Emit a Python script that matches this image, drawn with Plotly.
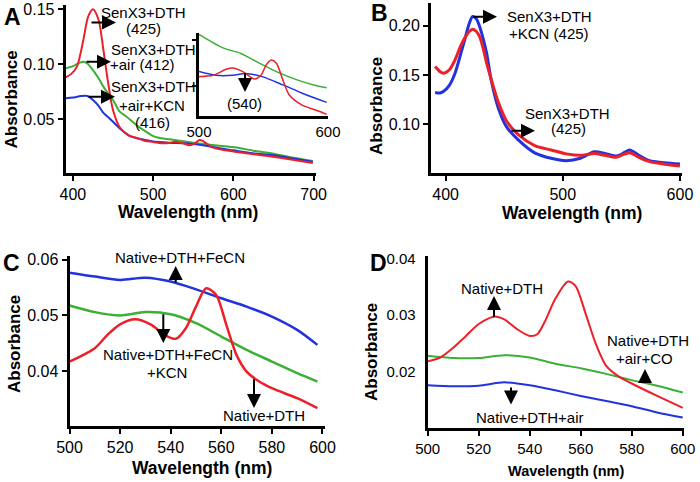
import plotly.graph_objects as go

# ---------------- DATA ----------------
# Panel A (main)
A_red_wl = [391, 398, 405, 413, 419, 425, 432, 438, 444, 450, 459, 470, 480, 490, 500, 510, 520, 527, 535, 546, 553, 558, 563, 573, 585, 604, 625, 645, 670, 699]
A_red = [0.0879, 0.091, 0.0976, 0.1218, 0.143, 0.1497, 0.140, 0.1127, 0.0825, 0.058, 0.0418, 0.035, 0.0327, 0.030, 0.0292, 0.028, 0.0282, 0.0294, 0.0285, 0.0262, 0.0285, 0.031, 0.0295, 0.0245, 0.0222, 0.020, 0.018, 0.0161, 0.0135, 0.0101]
A_blue_wl = [391, 400, 410, 418, 425, 432, 438, 445, 450, 460, 470, 480, 490, 500, 520, 540, 560, 583, 600, 624, 650, 675, 699]
A_blue = [0.0688, 0.0695, 0.0708, 0.0709, 0.0673, 0.062, 0.0555, 0.051, 0.0475, 0.0405, 0.035, 0.0325, 0.031, 0.0296, 0.0285, 0.0279, 0.0264, 0.0234, 0.0215, 0.0188, 0.017, 0.014, 0.0112]
A_green_wl = [391, 400, 408, 413, 418, 425, 432, 438, 445, 450, 458, 467, 480, 492, 500, 510, 521, 540, 555, 580, 604, 625, 645, 670, 699]
A_green = [0.0961, 0.098, 0.101, 0.1021, 0.1005, 0.0945, 0.087, 0.0794, 0.072, 0.0673, 0.057, 0.052, 0.044, 0.038, 0.0345, 0.0325, 0.0315, 0.0295, 0.028, 0.026, 0.024, 0.0212, 0.019, 0.0155, 0.0118]

# Panel A inset (500-600 nm)
I_wl_g = [500, 519, 532, 545, 560, 576, 589, 599]
I_green = [0.0362, 0.0332, 0.0321, 0.0302, 0.0281, 0.0263, 0.0252, 0.0246]
I_wl_b = [500, 513, 526, 536, 549, 565, 580, 599]
I_blue = [0.0281, 0.0273, 0.0273, 0.0277, 0.0270, 0.0252, 0.0234, 0.0214]
I_wl_r = [500, 511, 521, 526, 534, 543, 548, 552, 556, 560, 565, 570, 580, 591, 599]
I_red = [0.0270, 0.0273, 0.0286, 0.0289, 0.0281, 0.0265, 0.0273, 0.0295, 0.0306, 0.0299, 0.0263, 0.0230, 0.0208, 0.0197, 0.0188]

# Panel B
B_wl = [391, 395, 398, 403, 408, 413, 417, 420, 423, 426, 429, 432, 435, 439, 445, 452, 462, 476, 490, 503, 515, 527, 536, 545, 550, 557, 565, 574, 587, 600]
B_red = [0.1585, 0.1535, 0.1517, 0.155, 0.1653, 0.180, 0.189, 0.194, 0.1966, 0.1945, 0.189, 0.177, 0.162, 0.145, 0.122, 0.103, 0.089, 0.078, 0.0735, 0.0695, 0.068, 0.070, 0.068, 0.066, 0.068, 0.0707, 0.066, 0.0616, 0.059, 0.057]
B_blue = [0.132, 0.1315, 0.133, 0.139, 0.1517, 0.172, 0.189, 0.202, 0.2095, 0.2075, 0.1993, 0.187, 0.172, 0.144, 0.116, 0.097, 0.0837, 0.0705, 0.065, 0.0626, 0.065, 0.0717, 0.070, 0.0673, 0.069, 0.0735, 0.068, 0.0626, 0.0605, 0.0592]

# Panel C
C_wl = [500, 510, 520, 530, 540, 550, 560, 570, 580, 590, 598]
C_blue = [0.0577, 0.0570, 0.0564, 0.0568, 0.0561, 0.0547, 0.0531, 0.0516, 0.0498, 0.0474, 0.0447]
C_green = [0.0518, 0.0506, 0.0500, 0.0506, 0.0502, 0.0486, 0.0462, 0.0438, 0.0417, 0.0396, 0.0381]
C_red_wl = [500, 510, 515, 520, 526, 532, 538, 542, 546, 550, 554, 558, 562, 566, 570, 575, 580, 590, 598]
C_red = [0.0417, 0.0441, 0.0465, 0.0484, 0.0493, 0.0484, 0.0464, 0.0458, 0.0477, 0.0516, 0.0549, 0.0537, 0.0483, 0.0429, 0.0399, 0.0381, 0.0369, 0.0351, 0.0333]

# Panel D
D_wl = [500, 510, 520, 530, 540, 550, 560, 570, 580, 590, 600]
D_green = [0.0228, 0.0224, 0.0224, 0.0229, 0.0225, 0.0214, 0.0206, 0.0196, 0.0185, 0.0175, 0.0163]
D_blue = [0.0176, 0.0174, 0.0175, 0.0181, 0.0176, 0.0167, 0.0157, 0.0148, 0.0139, 0.0128, 0.0119]
D_red_wl = [500, 505, 510, 515, 520, 526, 530, 535, 540, 543, 546, 550, 555, 558, 562, 566, 570, 575, 580, 590, 600]
D_red = [0.0218, 0.0225, 0.0242, 0.0263, 0.0284, 0.0297, 0.0292, 0.0275, 0.0263, 0.0266, 0.0289, 0.0328, 0.0359, 0.0351, 0.0301, 0.0248, 0.0210, 0.0191, 0.0179, 0.0157, 0.0136]

RED = "#ec2028"
GREEN = "#3cb034"
BLUE = "#2233dd"
FONT = "Liberation Sans, Arial, sans-serif"

W, H = 700, 482
def fx(x):
    return x / W
def fy(y):
    return 1 - y / H

fig = go.Figure()

def line(x, y, color, xa, ya, width):
    fig.add_trace(go.Scatter(x=x, y=y, mode="lines", line=dict(color=color, width=width, shape="spline", smoothing=0.8),
                             xaxis=xa, yaxis=ya, showlegend=False, hoverinfo="skip"))

# A
line(A_green_wl, A_green, GREEN, "x", "y", 2)
line(A_blue_wl, A_blue, BLUE, "x", "y", 2)
line(A_red_wl, A_red, RED, "x", "y", 2)
# B
line(B_wl, B_blue, BLUE, "x2", "y2", 3)
line(B_wl, B_red, RED, "x2", "y2", 3)
# C
line(C_wl, C_blue, BLUE, "x3", "y3", 2.5)
line(C_wl, C_green, GREEN, "x3", "y3", 2.5)
line(C_red_wl, C_red, RED, "x3", "y3", 2.5)
# D
line(D_wl, D_green, GREEN, "x4", "y4", 2)
line(D_wl, D_blue, BLUE, "x4", "y4", 2)
line(D_red_wl, D_red, RED, "x4", "y4", 2)
# Inset
line(I_wl_g, I_green, GREEN, "x5", "y5", 1.5)
line(I_wl_b, I_blue, BLUE, "x5", "y5", 1.5)
line(I_wl_r, I_red, RED, "x5", "y5", 1.5)

def ax(domain, rng, tickvals, anchor, lw=3, ticksize=16, showlabels=True, ticklen=5, fmt=None, ticks="outside", standoff=None):
    d = dict(domain=domain, range=rng, tickvals=tickvals, anchor=anchor, showline=True, linecolor="black",
             linewidth=lw, ticks=ticks, ticklen=ticklen, tickwidth=2, tickcolor="black", showgrid=False,
             zeroline=False, showticklabels=showlabels, automargin=False,
             tickfont=dict(family=FONT, size=ticksize, color="black"))
    if fmt:
        d["tickformat"] = fmt
    if standoff is not None:
        d["ticklabelstandoff"] = standoff
    return d

layout = dict(
    width=W, height=H, margin=dict(l=0, r=0, t=0, b=0, autoexpand=False),
    paper_bgcolor="white", plot_bgcolor="rgba(0,0,0,0)", showlegend=False,
    xaxis=ax([fx(65.7), fx(316)], [391, 703], [400, 500, 600, 700], "y"),
    yaxis=ax([fy(172.7), fy(5)], [0.0012, 0.1536], [0.05, 0.10, 0.15], "x", fmt=".2f"),
    xaxis2=ax([fx(431), fx(681.7)], [387.5, 601.5], [400, 500, 600], "y2"),
    yaxis2=ax([fy(172.7), fy(3.3)], [0.0503, 0.223], [0.10, 0.15, 0.20], "x2", fmt=".2f"),
    xaxis3=ax([fx(69.5), fx(325)], [500, 601], [500, 520, 540, 560, 580, 600], "y3"),
    yaxis3=ax([fy(426), fy(256)], [0.0301, 0.0607], [0.04, 0.05, 0.06], "x3", fmt=".2f"),
    xaxis4=ax([fx(427.7), fx(684)], [500, 600.5], [500, 520, 540, 560, 580, 600], "y4", ticksize=15),
    yaxis4=ax([fy(427.7), fy(256)], [0.0101, 0.0404], [0.02, 0.03, 0.04], "x4", ticksize=15, fmt=".2f",
              ticks="", standoff=6),
    xaxis5=ax([fx(199), fx(328)], [500, 600], [500, 600], "y5", ticksize=15, ticklen=0),
    yaxis5=ax([fy(115.7), fy(33)], [0.0185, 0.0365], [0.025, 0.035], "x5", showlabels=False, ticklen=4),
)
fig.update_layout(**layout)

ann = []
def text(t, x, y, size=15, bold=False, angle=0):
    s = "<b>%s</b>" % t if bold else t
    ann.append(dict(text=s, x=fx(x), y=fy(y), xref="paper", yref="paper", showarrow=False,
                    xanchor="center", yanchor="middle", textangle=angle,
                    font=dict(family=FONT, size=size, color="black")))

def arrow(tail, tip):
    ann.append(dict(text="", x=fx(tip[0]), y=fy(tip[1]), xref="paper", yref="paper", showarrow=True,
                    ax=tail[0] - tip[0], ay=tail[1] - tip[1], arrowhead=2, arrowsize=1.4, arrowwidth=2,
                    arrowcolor="black", startstandoff=0, standoff=0))

# Panel letters
text("A", 12, 17, 23, True)
text("B", 379, 13, 23, True)
text("C", 11, 263, 23, True)
text("D", 378, 263, 23, True)

# Axis titles
text("Absorbance", 10.5, 100, 17, True, -90)
text("Absorbance", 376, 106, 17, True, -90)
text("Absorbance", 14, 344, 17, True, -90)
text("Absorbance", 371, 352, 17, True, -90)
text("Wavelength (nm)", 188, 212, 17.5, True)
text("Wavelength (nm)", 572, 213, 17.5, True)
text("Wavelength (nm)", 202, 468, 17.5, True)
text("Wavelength (nm)", 566, 471, 14.5, True)

# Panel A labels
text("SenX3+DTH", 143, 12)
text("(425)", 143, 28)
text("SenX3+DTH", 153, 50)
text("+air (412)", 142, 65)
text("SenX3+DTH", 153, 86)
text("+air+KCN", 152, 105)
text("(416)", 152, 123)
text("(540)", 245, 103)
arrow((90, 22.5), (116, 22.5))
arrow((85, 61.7), (111, 61.7))
arrow((87, 96.7), (115, 96.7))
arrow((245, 71.7), (245, 92))

# Panel B labels
text("SenX3+DTH", 549, 17)
text("+KCN (425)", 549, 34)
text("SenX3+DTH", 567.5, 113)
text("(425)", 568, 129)
arrow((471.7, 16.7), (497, 16.7))
arrow((510, 130.7), (535, 130.7))

# Panel C labels
text("Native+DTH+FeCN", 180, 257)
text("Native+DTH+FeCN", 167.5, 354)
text("+KCN", 167, 372)
text("Native+DTH", 264, 415)
arrow((175.7, 284), (175.7, 266))
arrow((163.3, 312.7), (163.3, 343))
arrow((254, 377.7), (254, 408))

# Panel D labels
text("Native+DTH", 502, 288)
text("Native+DTH", 647.5, 340)
text("+air+CO", 644, 358)
text("Native+DTH+air", 529.5, 417)
arrow((494, 318.3), (494, 296))
arrow((645, 384), (645, 369))
arrow((511, 386), (511, 404.5))

fig.update_layout(annotations=ann)
fig.write_html("out.html", config={"displayModeBar": False},
               post_script="document.body.style.margin='0px';document.body.style.overflow='hidden';")
